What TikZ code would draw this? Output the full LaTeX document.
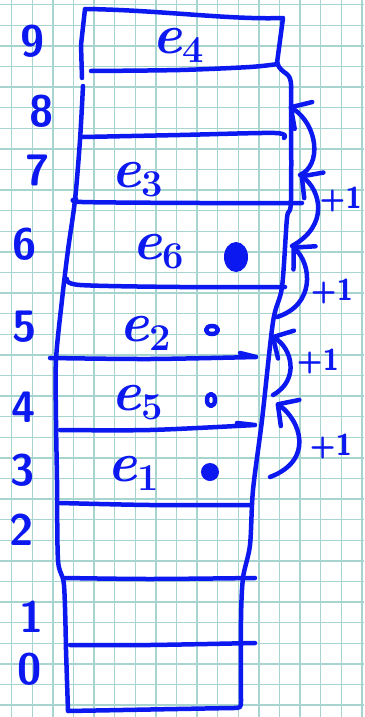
\documentclass[tikz,border=0pt]{standalone}
\usetikzlibrary{arrows.meta}
\definecolor{ink}{RGB}{12,24,240}
\definecolor{paper}{RGB}{168,212,208}
\newcommand{\esub}[1]{\textit{e}\raisebox{-9pt}{\fontsize{38}{38}\selectfont #1}}
\begin{document}
\begin{tikzpicture}[x=1pt,y=-1pt,
pen/.style={draw=ink,line width=4.5pt,line cap=round,line join=round},
inc/.style={pen,-{Straight Barb[length=15pt,width=32pt,round]}},
num/.style={text=ink,font=\sffamily\bfseries\fontsize{44}{44}\selectfont,inner sep=0pt},
elt/.style={text=ink,font=\bfseries\fontsize{56}{56}\selectfont,inner sep=0pt},
plus/.style={text=ink,font=\sffamily\bfseries\fontsize{30}{30}\selectfont,inner sep=0pt}]
\fill[white] (0,0) rectangle (364,717);
\useasboundingbox (0,0) rectangle (364,717);
\foreach \i in {0,...,17}{\draw[paper,line width=1.4pt] ({11.7+20.6*\i},0) -- ({11.7+20.6*\i},717);}
\foreach \j in {0,...,34}{\draw[paper,line width=1.4pt] (0,{4.7+20.6*\j}) -- (364,{4.7+20.6*\j});}
\draw[pen] (82,78) -- (81,45) -- (85,9) .. controls (160,10) and (230,20) .. (283,18) -- (277,63);
\draw[pen] (277,63) .. controls (282,76) and (292,70) .. (291,88);
\draw[pen] plot[smooth] coordinates {(291,88) (291,200) (287,218) (282,287) (273,322) (262,420) (253,490) (250,545) (243,578) (241,620) (241,700)} .. controls (241,708) .. (232,708) -- (68,711) -- plot[smooth] coordinates {(66,650) (64,585) (58,560) (57,480) (56,420) (56,360) (62,300) (68,250) (75,200) (80,140) (83,86)};
\draw[pen] plot[smooth] coordinates {(91,71) (180,70) (250,67) (278,64)};
\draw[pen] plot[smooth] coordinates {(83,137) (180,135) (275,133) (284,138)};
\draw[pen] plot[smooth] coordinates {(76,199) (82,202) (200,203) (302,203)};
\draw[pen] plot[smooth] coordinates {(67,279) (80,285) (180,287) (285,287)};
\draw[pen] plot[smooth] coordinates {(50,358) (150,359) (256,357)} (240,353) -- (256,357);
\draw[pen] plot[smooth] coordinates {(60,430) (150,430) (255,425)} (237,423) -- (255,425);
\draw[pen] plot[smooth] coordinates {(60,503) (150,505) (250,505)};
\draw[pen] plot[smooth] coordinates {(65,578) (150,579) (255,578)};
\draw[pen] plot[smooth] coordinates {(70,645) (150,645) (255,643)};
\foreach \k/\x/\y in {9/33/41,8/42/111,7/38/170,6/25/244,5/25/327,4/24/407,3/23/470,2/22/530,1/32/617,0/30/669}{\node[num] (n\k) at (\x,\y) {\k};}
\node[elt] (e4) at (178,45) {\esub{4}};
\node[elt] (e3) at (137,180) {\esub{3}};
\node[elt] (e6) at (158,252) {\esub{6}};
\node[elt] (e2) at (145,333) {\esub{2}};
\node[elt] (e5) at (137,403) {\esub{5}};
\node[elt] (e1) at (133,473) {\esub{1}};
\fill[ink] (236,257) ellipse [x radius=12,y radius=15];
\draw[pen] (212,330) ellipse [x radius=6,y radius=4];
\draw[pen] (211,400) ellipse [x radius=4,y radius=6];
\fill[ink] (210,472) circle [radius=9];
\coordinate (t1) at (289,106);\coordinate (t2) at (300,175);\coordinate (t3) at (292,246);
\coordinate (t4) at (271,336);\coordinate (t5) at (276,403);
\coordinate (s3) at (277,317);\coordinate (s4) at (273,395);\coordinate (s5) at (270,477);
\draw[inc] (t2) .. controls (322,165) and (318,125) .. (t1);
\draw[inc] (t3) .. controls (330,225) and (320,190) .. (t2);
\draw[inc] (s3) .. controls (315,305) and (312,265) .. (t3);
\draw[inc] (s4) .. controls (300,380) and (292,348) .. (t4);
\draw[inc] (s5) .. controls (315,460) and (300,420) .. (t5);
\node[plus,anchor=east] (p1) at (362,200) {+1};
\node[plus] (p2) at (332,292) {+1};
\node[plus] (p3) at (318,362) {+1};
\node[plus] (p4) at (331,447) {+1};
\end{tikzpicture}
\end{document}
